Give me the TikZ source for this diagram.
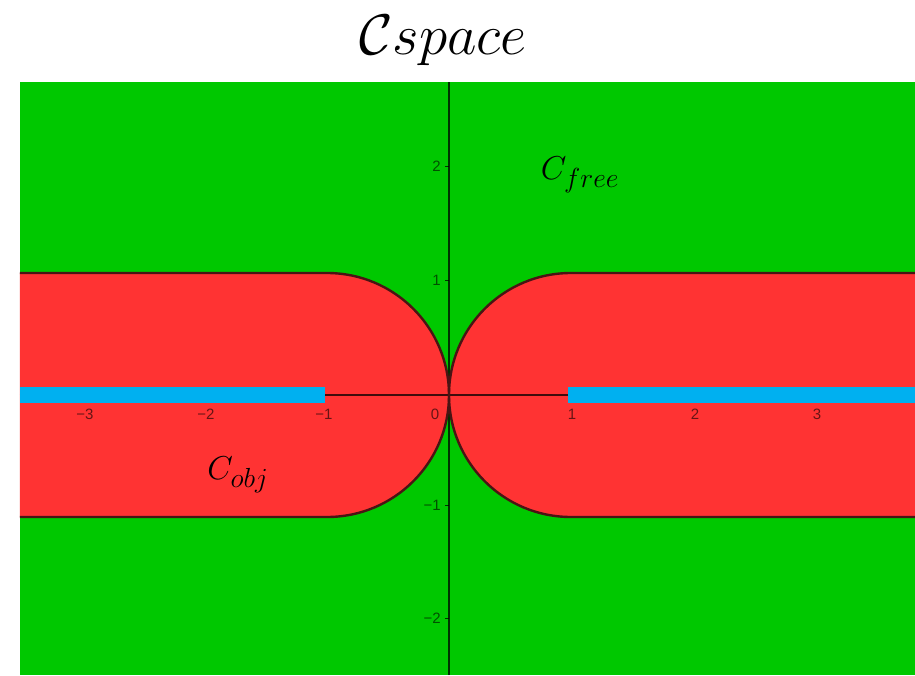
\documentclass[tikz,border=0pt]{standalone}
\usepackage{fontspec}
\newfontfamily\tickfont{Liberation Sans}
\definecolor{freegreen}{HTML}{00C800}
\definecolor{objred}{HTML}{FF3333}
\definecolor{barblue}{HTML}{00B0F0}
\definecolor{edgebrown}{HTML}{4A1414}
\tikzset{
  objfill/.style={fill=objred},
  objedge/.style={draw=edgebrown,line width=2.4pt},
  axisline/.style={draw=black,opacity=0.75,line width=1.2pt},
  ticklabel/.style={font=\tickfont\fontsize{15}{17}\selectfont,text=black,text opacity=0.6,inner sep=0pt},
  bigmath/.style={font=\Huge,scale=1.33,transform shape,inner sep=0pt},
}
\begin{document}
\begin{tikzpicture}[x=1pt,y=1pt]
\useasboundingbox (-449,-280) rectangle (466,395);
\fill[white] (-449,-280) rectangle (466,395);
% background
\fill[freegreen] (-429,-280) rectangle (466,313);
% red regions
\fill[objfill] (-429,122) -- (-122,122) arc[start angle=90,end angle=-90,radius=122] -- (-429,-122) -- cycle;
\fill[objfill] (466,122) -- (122,122) arc[start angle=90,end angle=270,radius=122] -- (466,-122) -- cycle;
% axes
\draw[axisline] (0,-280) -- (0,313);
\draw[axisline] (-429,0) -- (466,0);
% y ticks
\foreach \yy/\lab in {229/2,115/1,-110/−1,-223/−2}{
  \draw[axisline,line width=0.8pt] (-4,\yy) -- (0,\yy);
  \node[ticklabel,anchor=east] (yl\lab) at (-8,\yy) {\lab};
}
% x tick labels
\foreach \xx/\lab/\nm in {-364/−3/a,-243/−2/b,-125/−1/c,-14/0/d,123/1/e,246/2/f,368/3/g}{
  \node[ticklabel] (xl\nm) at (\xx,-19) {\lab};
}
% red outlines
\draw[objedge] (-429,122) -- (-122,122) arc[start angle=90,end angle=-90,radius=122] -- (-429,-122);
\draw[objedge] (466,122) -- (122,122) arc[start angle=90,end angle=270,radius=122] -- (466,-122);
% blue bars
\fill[barblue] (-429,-8) rectangle (-124,8);
\fill[barblue] (119,-8) rectangle (466,8);
% labels
\node[bigmath] (cfree) at (131,220) {$C_{free}$};
\node[bigmath] (cobj) at (-211,-80) {$C_{obj}$};
\node[font=\Huge,scale=2.3,transform shape,inner sep=0pt,anchor=base] (title) at (-6,340) {$\mathcal{C}space$};
\end{tikzpicture}
\end{document}
